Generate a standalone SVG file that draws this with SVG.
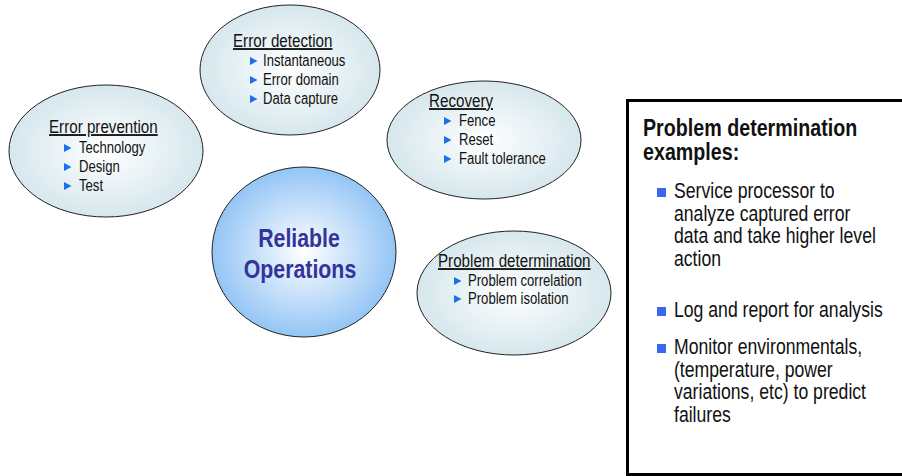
<svg xmlns="http://www.w3.org/2000/svg" width="902" height="476" viewBox="0 0 902 476">
<defs>
<radialGradient id="gEll" cx="0.5" cy="0.5" r="0.5">
<stop offset="0" stop-color="#ffffff"/>
<stop offset="1" stop-color="#d6e7ed"/>
</radialGradient>
<radialGradient id="gCore" cx="0.5" cy="0.5" r="0.5">
<stop offset="0" stop-color="#ffffff"/>
<stop offset="1" stop-color="#94c5f5"/>
</radialGradient>
<polygon id="tri" points="0,-4 7.5,0 0,4" fill="#1a6ef0"/>
</defs>
<style>
.e{fill:url(#gEll);stroke:#222;stroke-width:1}
.t{font-family:"Liberation Sans Narrow","Liberation Sans",Arial,sans-serif;fill:#111}
.h{font-size:18.5px;text-decoration:underline}
.i{font-size:16px}
.bx{font-family:"Liberation Sans Narrow","Liberation Sans",Arial,sans-serif;fill:#111;font-size:21.5px}
.bh{font-family:"Liberation Sans Narrow","Liberation Sans",Arial,sans-serif;fill:#111;font-size:24px;font-weight:bold}
.ro{font-family:"Liberation Sans Narrow","Liberation Sans",Arial,sans-serif;fill:#333399;font-size:26px;font-weight:bold;text-anchor:middle}
.sq{fill:#3a66f0}
</style>
<rect width="902" height="476" fill="#ffffff"/>
<g id="connectors"></g>
<g id="error-prevention">
<ellipse class="e" cx="106" cy="151" rx="97" ry="66"/>
<text class="t h" transform="matrix(0.82 0 0 1 49 133)">Error prevention</text>
<use href="#tri" x="64" y="148"/><text class="t i" transform="matrix(0.82 0 0 1 79 153)">Technology</text>
<use href="#tri" x="64" y="167"/><text class="t i" transform="matrix(0.82 0 0 1 79 172)">Design</text>
<use href="#tri" x="64" y="186"/><text class="t i" transform="matrix(0.82 0 0 1 79 191)">Test</text>
</g>
<g id="error-detection">
<ellipse class="e" cx="290" cy="70" rx="90" ry="65"/>
<text class="t h" transform="matrix(0.82 0 0 1 233 47)">Error detection</text>
<use href="#tri" x="250" y="61"/><text class="t i" transform="matrix(0.82 0 0 1 263 66)">Instantaneous</text>
<use href="#tri" x="250" y="80"/><text class="t i" transform="matrix(0.82 0 0 1 263 85)">Error domain</text>
<use href="#tri" x="250" y="99"/><text class="t i" transform="matrix(0.82 0 0 1 263 104)">Data capture</text>
</g>
<g id="recovery">
<ellipse class="e" cx="484" cy="140" rx="97" ry="59"/>
<text class="t h" transform="matrix(0.82 0 0 1 429 107)">Recovery</text>
<use href="#tri" x="444" y="121"/><text class="t i" transform="matrix(0.82 0 0 1 459 126)">Fence</text>
<use href="#tri" x="444" y="140"/><text class="t i" transform="matrix(0.82 0 0 1 459 145)">Reset</text>
<use href="#tri" x="444" y="159"/><text class="t i" transform="matrix(0.82 0 0 1 459 164)">Fault tolerance</text>
</g>
<g id="reliable-operations">
<ellipse cx="304" cy="252" rx="92" ry="85" fill="url(#gCore)" stroke="#222" stroke-width="1"/>
<text class="ro" transform="matrix(0.82 0 0 1 299 247)">Reliable</text>
<text class="ro" transform="matrix(0.82 0 0 1 300 278)">Operations</text>
</g>
<g id="problem-determination">
<ellipse class="e" cx="514" cy="293" rx="97" ry="62"/>
<text class="t h" transform="matrix(0.82 0 0 1 438 267)">Problem determination</text>
<use href="#tri" x="454" y="281"/><text class="t i" transform="matrix(0.82 0 0 1 468 286)">Problem correlation</text>
<use href="#tri" x="454" y="299"/><text class="t i" transform="matrix(0.82 0 0 1 468 304)">Problem isolation</text>
</g>
<g id="examples-box">
<rect x="627.5" y="100.5" width="290" height="374" fill="#ffffff" stroke="#000" stroke-width="3"/>
<text class="bh" transform="matrix(0.82 0 0 1 643 136)">Problem determination</text>
<text class="bh" transform="matrix(0.82 0 0 1 643 160)">examples:</text>
<rect class="sq" x="657" y="188" width="9" height="9"/>
<text class="bx" transform="matrix(0.82 0 0 1 674 198)">Service processor to</text>
<text class="bx" transform="matrix(0.82 0 0 1 674 220.5)">analyze captured error</text>
<text class="bx" transform="matrix(0.82 0 0 1 674 243)">data and take higher level</text>
<text class="bx" transform="matrix(0.82 0 0 1 674 265.5)">action</text>
<rect class="sq" x="657" y="307" width="9" height="9"/>
<text class="bx" transform="matrix(0.82 0 0 1 674 317)">Log and report for analysis</text>
<rect class="sq" x="657" y="344" width="9" height="9"/>
<text class="bx" transform="matrix(0.82 0 0 1 674 354)">Monitor environmentals,</text>
<text class="bx" transform="matrix(0.82 0 0 1 674 376.5)">(temperature, power</text>
<text class="bx" transform="matrix(0.82 0 0 1 674 399)">variations, etc) to predict</text>
<text class="bx" transform="matrix(0.82 0 0 1 674 421.5)">failures</text>
</g>
</svg>
